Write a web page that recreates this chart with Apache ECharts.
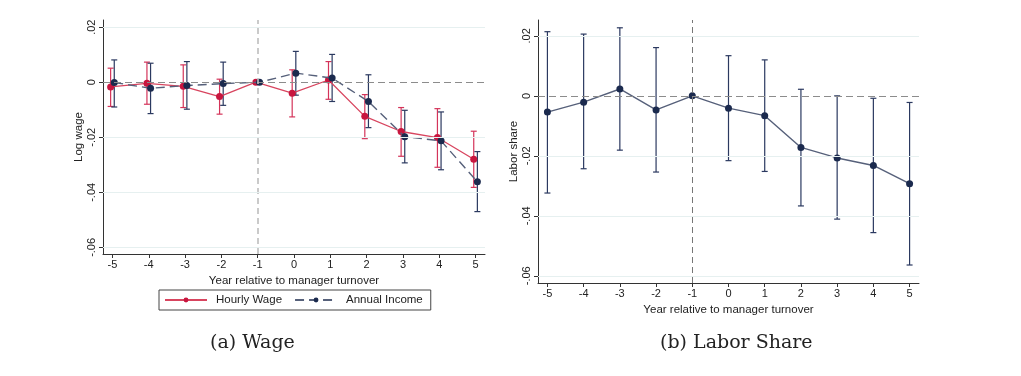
<!DOCTYPE html>
<html>
<head>
<meta charset="UTF-8">
<title>event study</title>
<script src="https://cdn.jsdelivr.net/npm/echarts@6/dist/echarts.min.js"></script>
<style>
  html, body { margin: 0; padding: 0; background: #fff; }
  #chart { width: 1021px; height: 376px; }
</style>
</head>
<body>
<div id="chart"></div>
<script>
// event time
var years = [-5, -4, -3, -2, -1, 0, 1, 2, 3, 4, 5];

// panel (a): hourly wage
var wageCoef = [-0.0017, -0.0004, -0.0015, -0.0052, 0, -0.0040, 0.0008, -0.0124, -0.0179, -0.0201, -0.0280];
var wageLo   = [-0.0088, -0.0080, -0.0092, -0.0116, 0, -0.0126, -0.0062, -0.0205, -0.0269, -0.0309, -0.0382];
var wageHi   = [0.0051, 0.0073, 0.0063, 0.0011, 0, 0.0045, 0.0075, -0.0045, -0.0092, -0.0096, -0.0178];

// panel (a): annual income
var incCoef = [-0.0001, -0.0022, -0.0012, -0.0005, 0, 0.0033, 0.0015, -0.0070, -0.0198, -0.0213, -0.0362];
var incLo   = [-0.0090, -0.0114, -0.0098, -0.0084, 0, -0.0047, -0.0070, -0.0165, -0.0293, -0.0318, -0.0470];
var incHi   = [0.0081, 0.0069, 0.0075, 0.0073, 0, 0.0112, 0.0101, 0.0027, -0.0102, -0.0108, -0.0252];

// panel (b): labor share
var shareCoef = [-0.0054, -0.0021, 0.0023, -0.0047, 0, -0.0041, -0.0066, -0.0172, -0.0207, -0.0232, -0.0293];
var shareLo   = [-0.0324, -0.0243, -0.0181, -0.0254, 0, -0.0216, -0.0252, -0.0367, -0.0411, -0.0456, -0.0564];
var shareHi   = [0.0214, 0.0206, 0.0227, 0.0161, 0, 0.0134, 0.0120, 0.0022, 0, -0.0008, -0.0022];

var yTicks = [0.02, 0, -0.02, -0.04, -0.06];
var gridVals = [0.02, -0.02, -0.04, -0.06];

var RED = '#c8163f';
var NAVY = '#1b2a4e';
var FONT = 'Liberation Sans';

function fmtY(v) {
  if (Math.abs(v) < 1e-9) return '0';
  var s = v.toFixed(2);
  return s.replace('0.', '.');
}

function pts(coef, shift) {
  return years.map(function(t, i) { return [t + shift, coef[i]]; });
}
function bars(lo, hi, shift) {
  return years.map(function(t, i) { return [t + shift, lo[i], hi[i]]; });
}

function errorBar(color) {
  return function(params, api) {
    var x = api.value(0), lo = api.value(1), hi = api.value(2);
    if (Math.abs(hi - lo) < 1e-7) return;
    var top = api.coord([x, hi]);
    var bot = api.coord([x, lo]);
    var w = 3;
    var st = { stroke: color, lineWidth: 1.2 };
    return {
      type: 'group',
      children: [
        { type: 'line', shape: { x1: top[0], y1: top[1], x2: bot[0], y2: bot[1] }, style: st },
        { type: 'line', shape: { x1: top[0] - w, y1: top[1], x2: top[0] + w, y2: top[1] }, style: st },
        { type: 'line', shape: { x1: bot[0] - w, y1: bot[1], x2: bot[0] + w, y2: bot[1] }, style: st }
      ]
    };
  };
}

function xAxisDef(idx) {
  return {
    type: 'value', gridIndex: idx, min: -5.26, max: 5.26,
    name: 'Year relative to manager turnover', nameLocation: 'middle', nameGap: 20,
    nameTextStyle: { fontFamily: FONT, fontSize: 11.5, color: '#222' },
    axisLine: { onZero: false, lineStyle: { color: '#333', width: 1 } },
    axisTick: { length: 4, lineStyle: { color: '#333' }, customValues: years },
    axisLabel: { fontFamily: FONT, fontSize: 11, color: '#222', margin: 5, customValues: years },
    splitLine: { show: false }
  };
}

function yAxisDef(idx, name, min, max, gap) {
  return {
    type: 'value', gridIndex: idx, min: min, max: max,
    name: name, nameLocation: 'middle', nameGap: gap, nameRotate: 90,
    nameTextStyle: { fontFamily: FONT, fontSize: 11.5, color: '#222' },
    axisLine: { show: true, onZero: false, lineStyle: { color: '#333', width: 1 } },
    axisTick: { show: true, length: 4, lineStyle: { color: '#333' }, customValues: yTicks },
    axisLabel: { fontFamily: FONT, fontSize: 11, color: '#222', rotate: 90, margin: 6,
                 customValues: yTicks, formatter: fmtY },
    splitLine: { show: false }
  };
}

function refLines(gridFirst) {
  var data = [
    { yAxis: 0, lineStyle: { color: '#8c8c8c', type: [7, 4], width: 1.1 } },
    { xAxis: -1, lineStyle: { color: gridFirst ? '#bdbdbd' : '#777', type: [6, 4], width: gridFirst ? 1.6 : 1 } }
  ];
  gridVals.forEach(function(v) {
    data.push({ yAxis: v, lineStyle: { color: '#e6f0f0', type: 'solid', width: 1 } });
  });
  return { silent: true, symbol: 'none', label: { show: false }, data: data };
}

var chart = echarts.init(document.getElementById('chart'));
var option = {
  animation: false,
  backgroundColor: '#fff',
  grid: [
    { left: 103, top: 20, width: 382, height: 234 },
    { left: 538, top: 20, width: 381, height: 263 }
  ],
  legend: {
    left: 159, top: 290,
    padding: [4, 8, 4, 5], itemGap: 12, itemWidth: 42, itemHeight: 6,
    borderColor: '#444', borderWidth: 1, borderRadius: 0,
    textStyle: { fontFamily: FONT, fontSize: 11.5, color: '#222', padding: [0, 0, 0, 4] },
    data: ['Hourly Wage', 'Annual Income']
  },
  xAxis: [xAxisDef(0), xAxisDef(1)],
  yAxis: [
    yAxisDef(0, 'Log wage', -0.0624, 0.0226, 16),
    yAxisDef(1, 'Labor share', -0.0624, 0.0253, 17)
  ],
  graphic: [
    { type: 'text', style: { text: '(a) Wage', font: '19px "DejaVu Serif"', fill: '#222' },
      left: 210, top: 334 },
    { type: 'text', style: { text: '(b) Labor Share', font: '19px "DejaVu Serif"', fill: '#222' },
      left: 660, top: 334 }
  ],
  series: [
    {
      type: 'line', name: 'ref0', xAxisIndex: 0, yAxisIndex: 0, data: [], z: 1,
      markLine: refLines(true)
    },
    {
      type: 'line', name: 'ref1', xAxisIndex: 1, yAxisIndex: 1, data: [], z: 1,
      markLine: refLines(false)
    },
    {
      type: 'custom', name: 'Hourly Wage CI', xAxisIndex: 0, yAxisIndex: 0, z: 2,
      renderItem: errorBar('#d4345a'), encode: { x: 0, y: [1, 2] },
      data: bars(wageLo, wageHi, -0.05)
    },
    {
      type: 'custom', name: 'Annual Income CI', xAxisIndex: 0, yAxisIndex: 0, z: 2,
      renderItem: errorBar('#2b3960'), encode: { x: 0, y: [1, 2] },
      data: bars(incLo, incHi, 0.05)
    },
    {
      type: 'line', name: 'Hourly Wage', xAxisIndex: 0, yAxisIndex: 0, z: 3,
      data: pts(wageCoef, -0.05), symbol: 'circle', symbolSize: 7,
      itemStyle: { color: RED }, lineStyle: { color: '#d8455f', width: 1.3 }
    },
    {
      type: 'line', name: 'Annual Income', xAxisIndex: 0, yAxisIndex: 0, z: 4,
      data: pts(incCoef, 0.05), symbol: 'circle', symbolSize: 7,
      itemStyle: { color: NAVY }, lineStyle: { color: '#56607a', width: 1.4, type: [9, 5] }
    },
    {
      type: 'custom', name: 'Labor share CI', xAxisIndex: 1, yAxisIndex: 1, z: 2,
      renderItem: errorBar('#2b3960'), encode: { x: 0, y: [1, 2] },
      data: bars(shareLo, shareHi, 0)
    },
    {
      type: 'line', name: 'Labor share', xAxisIndex: 1, yAxisIndex: 1, z: 3,
      data: pts(shareCoef, 0), symbol: 'circle', symbolSize: 7,
      itemStyle: { color: NAVY }, lineStyle: { color: '#56607a', width: 1.4 }
    }
  ]
};
chart.setOption(option);
</script>
</body>
</html>
